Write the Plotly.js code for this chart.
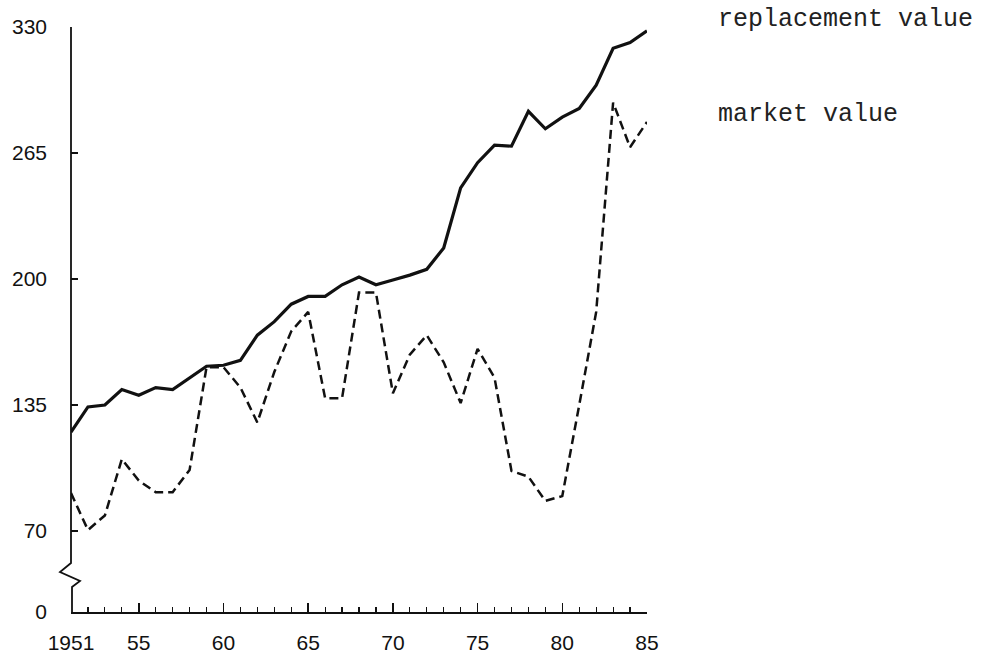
<!DOCTYPE html>
<html>
<head>
<meta charset="utf-8">
<script src="https://cdn.plot.ly/plotly-3.0.1.min.js"></script>
<style>
  html, body { margin: 0; padding: 0; background: #fff; }
  #chart { width: 994px; height: 655px; }
</style>
</head>
<body>
<div id="chart"></div>
<script>
// ---- data ----
const years = [1951,1952,1953,1954,1955,1956,1957,1958,1959,1960,
               1961,1962,1963,1964,1965,1966,1967,1968,1969,1970,
               1971,1972,1973,1974,1975,1976,1977,1978,1979,1980,
               1981,1982,1983,1984,1985];
const replacementValue = [121,134,135,143,140,144,143,149,155,155.5,
                          158,171,178,187,191,191,197,201,197,199.5,
                          202,205,216,247,260,269,268.5,286.5,277.5,283.5,
                          288,300,319,322,328];
const marketValue = [89.6,70.5,78,107,96,90,90,101.5,154.5,154.5,
                     144,126,152,173,183,138.5,138.5,193,193,141,
                     161,171,157,136,164,149,101,98,85.5,88,
                     135,183,291,268,281];
const xTickVals = [1951,1955,1960,1965,1970,1975,1980,1985];
const xTickText = ['1951','55','60','65','70','75','80','85'];
// broken axis: the "0" label sits at the bottom of the broken scale
const yBottom = 28.2;
const yTickVals = [yBottom,70,135,200,265,330];
const yTickText = ['0','70','135','200','265','330'];
const seriesNames = ['replacement value','market value'];

// ---- geometry ----
const W = 994, H = 655;
const L = 71, T = 27, PW = 576, PH = 585;
const px = x => (x - L) / PW;
function pyy(y){ return (T + PH - y) / PH; }

const tickFont = {family: 'Liberation Sans, Arial, sans-serif', size: 21, color: '#111'};
const legendFont = {family: 'Liberation Mono, Courier New, monospace', size: 25, color: '#222'};

const traces = [
  {x: years, y: replacementValue, type: 'scatter', mode: 'lines', name: seriesNames[0],
   line: {color: '#111', width: 3.2}, cliponaxis: false},
  {x: years, y: marketValue, type: 'scatter', mode: 'lines', name: seriesNames[1],
   line: {color: '#111', width: 2.5, dash: '9px,5px'}, cliponaxis: false}
];

// y-axis line with the break zig-zag
const axisPath = 'M ' + px(71) + ',' + pyy(27) +
                 ' L ' + px(71) + ',' + pyy(563) +
                 ' L ' + px(60) + ',' + pyy(572) +
                 ' L ' + px(80) + ',' + pyy(581) +
                 ' L ' + px(72) + ',' + pyy(587) +
                 ' L ' + px(72) + ',' + pyy(612);

const layout = {
  width: W, height: H,
  margin: {l: L, t: T, r: W - L - PW, b: H - T - PH},
  paper_bgcolor: '#fff', plot_bgcolor: '#fff',
  showlegend: false,
  xaxis: {
    range: [1951, 1985], showgrid: false, zeroline: false,
    showline: true, linecolor: '#111', linewidth: 1.5,
    tickmode: 'array', tickvals: xTickVals, ticktext: xTickText,
    ticks: 'inside', ticklen: 9, tickwidth: 1.5, tickcolor: '#111',
    ticklabelstandoff: 11,
    minor: {ticks: 'inside', ticklen: 5, tickwidth: 1.2, tickcolor: '#111', dtick: 1, tick0: 1951, showgrid: false},
    tickfont: tickFont, fixedrange: true
  },
  yaxis: {
    range: [yBottom, 330], showgrid: false, zeroline: false,
    showline: false,
    tickmode: 'array', tickvals: yTickVals, ticktext: yTickText,
    ticks: 'inside', ticklen: 7, tickwidth: 1.5, tickcolor: '#111',
    ticklabelstandoff: 23,
    tickfont: tickFont, fixedrange: true
  },
  shapes: [
    {type: 'path', xref: 'paper', yref: 'paper', path: axisPath,
     line: {color: '#111', width: 1.8}}
  ],
  annotations: [
    {xref: 'paper', yref: 'paper', x: px(716), y: pyy(19), xanchor: 'left', yanchor: 'middle',
     text: seriesNames[0], showarrow: false, font: legendFont},
    {xref: 'paper', yref: 'paper', x: px(716), y: pyy(114), xanchor: 'left', yanchor: 'middle',
     text: seriesNames[1], showarrow: false, font: legendFont}
  ]
};

Plotly.newPlot('chart', traces, layout, {displayModeBar: false, staticPlot: true});
</script>
</body>
</html>
